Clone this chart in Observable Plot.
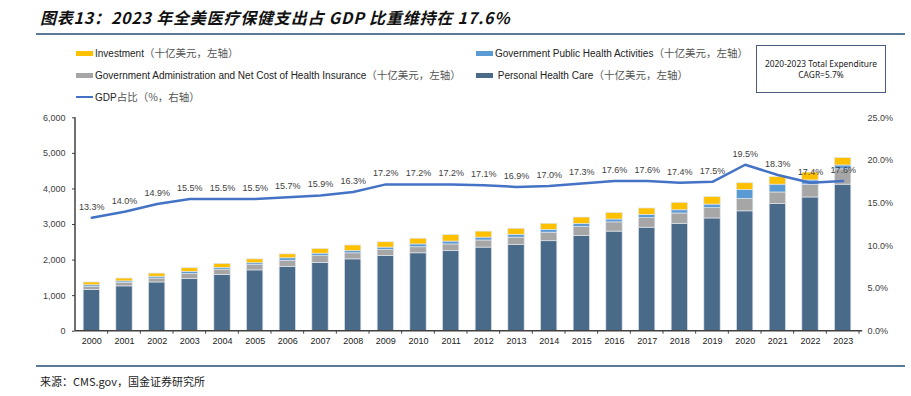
<!DOCTYPE html>
<html><head><meta charset="utf-8">
<script src="https://cdn.jsdelivr.net/npm/d3@7"></script>
<script src="https://cdn.jsdelivr.net/npm/@observablehq/plot@0.6"></script>
<style>
body{margin:0;background:#fff;}
#wrap{position:relative;width:911px;height:396px;overflow:hidden;font-family:"Liberation Sans",Arial,sans-serif;}
.title{position:absolute;left:40px;top:5px;font-family:"Noto Sans CJK SC",sans-serif;font-weight:bold;font-style:italic;font-size:16px;letter-spacing:0.8px;color:#111;white-space:nowrap;}
.rule{position:absolute;left:36px;width:869px;height:2px;background:#5b7a99;}
.leg{position:absolute;font-size:10px;color:#222;white-space:nowrap;line-height:12px;}
.leg .cn{font-family:"Noto Sans CJK SC",sans-serif;color:#555;font-size:10.5px;}
.sw{display:inline-block;width:17px;height:5px;vertical-align:middle;margin-right:2px;position:relative;top:-1px;}
.sw.line{height:2px;}
.box{position:absolute;left:756px;top:45px;width:128px;height:46px;border:1.5px solid #4a5a80;font-family:"Noto Sans",sans-serif;font-size:8.4px;color:#222;text-align:center;line-height:11px;box-sizing:content-box;}
.box div:first-child{margin-top:12px;}
.foot{position:absolute;left:40px;top:373px;font-family:"Noto Sans CJK SC",sans-serif;font-size:11px;color:#222;}
#chart{position:absolute;left:0;top:100px;}
</style></head>
<body><div id="wrap">
<div class="title">图表13：2023 年全美医疗保健支出占 GDP 比重维持在 17.6%</div>
<div class="rule" style="top:33px"></div>
<div id="legend"></div>
<div class="box"><div>2020-2023 Total Expenditure</div><div>CAGR=5.7%</div></div>
<div id="chart"></div>
<div class="rule" style="top:365px;height:1.5px"></div>
<div class="foot">来源：CMS.gov，国金证券研究所</div>
</div>
<script>
const years = ["2000","2001","2002","2003","2004","2005","2006","2007","2008","2009","2010","2011","2012","2013","2014","2015","2016","2017","2018","2019","2020","2021","2022","2023"];
const personalHealthCare = [1160,1260,1370,1470,1580,1710,1810,1920,2020,2110,2190,2250,2350,2420,2530,2680,2800,2910,3020,3170,3370,3580,3760,4120];
const adminNetCost = [80,100,110,140,150,150,170,190,170,170,170,190,200,210,240,250,260,270,290,290,350,320,360,430];
const publicHealth = [50,40,50,60,50,50,70,70,60,70,80,80,80,80,80,85,80,90,90,100,250,220,120,110];
const investment = [80,80,90,100,110,110,110,130,160,150,160,180,170,170,170,180,180,180,210,210,190,210,220,210];
const gdpShare = [13.3,14.0,14.9,15.5,15.5,15.5,15.7,15.9,16.3,17.2,17.2,17.2,17.1,16.9,17.0,17.3,17.6,17.6,17.4,17.5,19.5,18.3,17.4,17.6];
const leftTicks = [0,1000,2000,3000,4000,5000,6000];
const rightTicks = [0,5,10,15,20,25];
const yMax = 6000, pctMax = 25;

const seriesNames = ["Personal Health Care","Government Administration and Net Cost of Health Insurance","Government Public Health Activities","Investment"];
const seriesValues = [personalHealthCare, adminNetCost, publicHealth, investment];
const seriesColors = ["#4a6a8a","#a6a6a6","#5b9bd5","#ffc000"];

const stackData = seriesNames.flatMap((s,k)=>years.map((y,i)=>({year:y, series:s, value:seriesValues[k][i]})));
const lineData = years.map((y,i)=>({year:y, pct:gdpShare[i], yv:gdpShare[i]*yMax/pctMax}));

// legend
const cn = "（十亿美元，左轴）";
const legItems = [
  {left:76, top:47, color:"#ffc000", en:"Investment", cn},
  {left:476, top:47, color:"#5b9bd5", en:"Government Public Health Activities", cn},
  {left:76, top:69, color:"#a6a6a6", en:"Government Administration and Net Cost of Health Insurance", cn},
  {left:476, top:69, color:"#4a6a8a", en:"&nbsp;Personal Health Care", cn},
  {left:76, top:91, color:"#4472c4", en:"GDP", cn:"占比（%，右轴）", line:true}
];
document.getElementById("legend").innerHTML = legItems.map(d=>
  `<div class="leg" style="left:${d.left}px;top:${d.top}px"><span class="sw${d.line?' line':''}" style="background:${d.color}"></span>${d.en}<span class="cn">${d.cn}</span></div>`).join("");

const chart = Plot.plot({
  width:911, height:260,
  marginTop:17.3, marginBottom:29.3, marginLeft:75, marginRight:52,
  style:{fontFamily:"'Liberation Sans', Arial, sans-serif", fontSize:"9px", color:"#404040", background:"transparent", overflow:"visible"},
  x:{domain:years, paddingInner:0.5, paddingOuter:0.25, round:false, label:null},
  y:{domain:[0,yMax], label:null},
  color:{domain:seriesNames, range:seriesColors},
  marks:[
    Plot.barY(stackData,{x:"year", y:"value", fill:"series", order:seriesNames, stroke:"#dfe4ea", strokeWidth:0.7}),
    Plot.axisY({anchor:"left", ticks:leftTicks, tickFormat:d3.format(","), tickSize:3, tickPadding:7, label:null, fill:"#404040", stroke:"#404040"}),
    Plot.axisY({anchor:"right", ticks:rightTicks.map(p=>p*yMax/pctMax), tickFormat:d=>(d*pctMax/yMax).toFixed(1)+"%", tickSize:0, tickPadding:8, label:null, fill:"#404040"}),
    Plot.axisX({tickSize:0, tickPadding:6, label:null, fill:"#222"}),
    Plot.line(lineData,{x:"year", y:"yv", stroke:"#4472c4", strokeWidth:2.5}),
    Plot.text(lineData,{x:"year", y:"yv", text:d=>d.pct.toFixed(1)+"%", dy:-11, fill:"#404040", fontSize:9})
  ]
});
document.getElementById("chart").appendChild(chart);

// axis lines and category boundary ticks, derived from the scales
const ys = chart.scale("y"), xs = chart.scale("x");
const svg = d3.select(chart);
const step = xs.apply(years[1]) - xs.apply(years[0]);
const bw = xs.bandwidth;
const axisX0 = xs.apply(years[0]) - (step-bw)/2;
const axisX1 = xs.apply(years[years.length-1]) + bw + (step-bw)/2 + 0.1*step;
svg.append("line").attr("x1",axisX0).attr("x2",axisX1).attr("y1",ys.apply(0)).attr("y2",ys.apply(0)).attr("stroke","#404040").attr("stroke-width",1.5);
svg.append("line").attr("x1",axisX0).attr("x2",axisX0).attr("y1",ys.apply(0)).attr("y2",ys.apply(yMax)).attr("stroke","#404040").attr("stroke-width",1.5);
for (let i=0;i<years.length;i++){
  const bx = xs.apply(years[i]) + bw + (step-bw)/2;
  svg.append("line").attr("x1",bx).attr("x2",bx).attr("y1",ys.apply(0)).attr("y2",ys.apply(0)+3).attr("stroke","#404040").attr("stroke-width",1);
}
</script>
</body></html>
